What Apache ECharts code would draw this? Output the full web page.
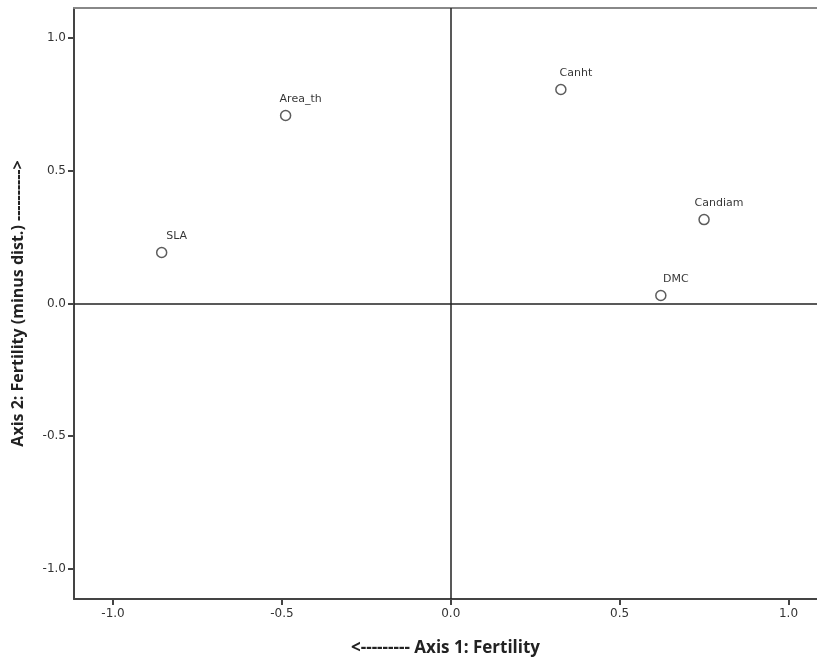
<!DOCTYPE html>
<html>
<head>
<meta charset="utf-8">
<script src="https://cdn.jsdelivr.net/npm/echarts@6/dist/echarts.min.js"></script>
<style>
  html, body { margin: 0; padding: 0; background: #fff; }
  #chart { width: 817px; height: 661px; }
</style>
</head>
<body>
<div id="chart"></div>
<script>
// trait loadings on the two ordination axes
var traits = ['SLA', 'Area_th', 'Canht', 'Candiam', 'DMC'];
var axis1 = [-0.856, -0.489, 0.326, 0.750, 0.622];
var axis2 = [0.192, 0.708, 0.806, 0.316, 0.030];
var tickValues = [-1.0, -0.5, 0.0, 0.5, 1.0];

var points = traits.map(function (name, i) {
  return { name: name, value: [axis1[i], axis2[i]] };
});

var chart = echarts.init(document.getElementById('chart'));

var axisText = { color: '#333', fontSize: 12, fontFamily: 'DejaVu Sans' };

var option = {
  animation: false,
  grid: { left: 74, right: 0, top: 8, bottom: 62, outerBoundsMode: 'none', containLabel: false },
  xAxis: [{
    type: 'value',
    min: -1.1156,
    max: 1.0844,
    position: 'bottom',
    splitLine: { show: false },
    axisLine: { onZero: false, lineStyle: { color: '#444', width: 2 } },
    axisTick: { customValues: tickValues, length: 6, lineStyle: { color: '#444', width: 2 } },
    axisLabel: Object.assign({ customValues: tickValues, margin: 9,
      formatter: function (v) { return v.toFixed(1); } }, axisText),
    name: '<--------- Axis 1: Fertility',
    nameLocation: 'middle',
    nameGap: 41,
    nameTextStyle: { fontSize: 17, fontWeight: 'bold', color: '#222', fontFamily: 'Open Sans' }
  }, {
    type: 'value',
    min: -1.1156,
    max: 1.0844,
    position: 'top',
    splitLine: { show: false },
    axisLine: { onZero: false, lineStyle: { color: '#888', width: 2 } },
    axisTick: { show: false },
    axisLabel: { show: false }
  }],
  yAxis: {
    type: 'value',
    min: -1.113,
    max: 1.113,
    splitLine: { show: false },
    axisLine: { show: true, onZero: false, lineStyle: { color: '#444', width: 2 } },
    axisTick: { show: true, customValues: tickValues, length: 6, lineStyle: { color: '#444', width: 2 } },
    axisLabel: Object.assign({ customValues: tickValues, margin: 8,
      formatter: function (v) { return v.toFixed(1); } }, axisText),
    name: 'Axis 2: Fertility (minus dist.) ---------->',
    nameLocation: 'middle',
    nameGap: 48,
    nameTextStyle: { fontSize: 16, fontWeight: 'bold', color: '#222', fontFamily: 'Open Sans' }
  },
  series: [{
    type: 'scatter',
    data: points,
    symbol: 'circle',
    symbolSize: 10,
    itemStyle: { color: '#fff', borderColor: '#333', borderWidth: 1.5 },
    label: {
      show: true,
      position: 'top',
      distance: 5,
      offset: [15, 0],
      formatter: '{b}',
      color: '#000',
      fontSize: 11,
      fontFamily: 'DejaVu Sans'
    },
    markLine: {
      silent: true,
      symbol: 'none',
      label: { show: false },
      lineStyle: { color: '#222', width: 1.5, type: 'solid' },
      data: [{ xAxis: 0 }, { yAxis: 0 }]
    }
  }]
};

chart.setOption(option);
</script>
</body>
</html>
